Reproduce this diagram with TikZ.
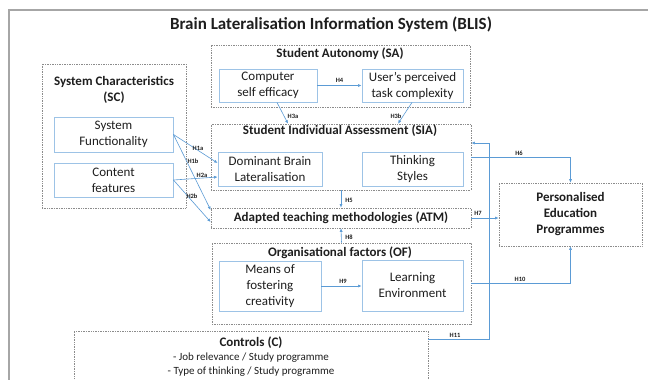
\documentclass[tikz,border=0pt]{standalone}
\usepackage{fontspec}
\setmainfont{Carlito}
\usetikzlibrary{arrows.meta}
\definecolor{boxcol}{HTML}{9DC3E6}
\definecolor{arrcol}{HTML}{5B9BD5}
\definecolor{dotcol}{HTML}{8C8C8C}
\definecolor{framecol}{HTML}{A6A6A6}
\definecolor{txtcol}{HTML}{1E1E1E}
\tikzset{
  grp/.style={draw=dotcol, densely dotted, line width=0.7pt, inner sep=0pt},
  bx/.style={draw=boxcol, line width=0.9pt, align=center, inner sep=0pt, text=txtcol,
    font=\fontsize{13}{16}\selectfont},
  ttl/.style={align=center, inner sep=0pt, text=txtcol, font=\bfseries\fontsize{13}{16}\selectfont},
  arr/.style={draw=arrcol, line width=0.6pt, -{Latex[length=3.5pt,width=3pt]}},
  lnk/.style={draw=arrcol, line width=0.6pt},
  lbl/.style={inner sep=0pt, text=txtcol, font=\bfseries\fontsize{6.5}{7}\selectfont},
  ctl/.style={inner sep=0pt, text=txtcol, font=\fontsize{11}{13}\selectfont}
}
\begin{document}
\begin{tikzpicture}[x=1pt,y=-1pt]
\useasboundingbox (0,0) rectangle (648,380);
\fill[white] (0,0) rectangle (648,380);
\draw[framecol, line width=2pt] (9,385) -- (9,10) -- (652,10);

\node[inner sep=0pt, text=txtcol, font=\bfseries\fontsize{17}{20}\selectfont] (title) at (331,25) {Brain Lateralisation Information System (BLIS)};

% System characteristics
\node[grp, minimum width=144pt, minimum height=144pt] (sc) at (114,136) {};
\node[ttl] (sct) at (114,90) {System Characteristics\\(SC)};
\node[bx, minimum width=119pt, minimum height=35pt] (sf) at (113.5,134.5) {System\\Functionality};
\node[bx, minimum width=119pt, minimum height=34pt] (cf) at (113.5,180) {Content\\features};

% Student autonomy
\node[grp, minimum width=259pt, minimum height=62pt] (sa) at (340.5,76) {};
\node[ttl] (sat) at (340,54) {Student Autonomy (SA)};
\node[bx, minimum width=98pt, minimum height=33pt] (cse) at (268,85.5) {Computer\\self efficacy};
\node[bx, minimum width=101pt, minimum height=33pt] (uptc) at (412.5,85.5) {User's perceived\\task complexity};

% Student individual assessment
\node[grp, minimum width=260pt, minimum height=66pt] (sia) at (341,157) {};
\node[ttl] (siat) at (340,131) {Student Individual Assessment (SIA)};
\node[bx, minimum width=104pt, minimum height=34pt] (dbl) at (270,169) {Dominant Brain\\Lateralisation};
\node[bx, minimum width=101pt, minimum height=34pt] (ts) at (412.5,169) {Thinking\\Styles};

% ATM
\node[grp, ttl, minimum width=260pt, minimum height=20pt] (atm) at (341,218) {Adapted teaching methodologies (ATM)};

% Organisational factors
\node[grp, minimum width=259pt, minimum height=81pt] (of) at (341.5,283.5) {};
\node[ttl] (oft) at (340,253) {Organisational factors (OF)};
\node[bx, minimum width=102pt, minimum height=50pt] (mfc) at (270,286) {Means of\\fostering\\creativity};
\node[bx, minimum width=101pt, minimum height=51pt] (le) at (412.5,285.5) {Learning\\Environment};

% PEP
\node[grp, ttl, minimum width=143pt, minimum height=63pt] (pep) at (570.5,214.5) {Personalised\\Education\\Programmes};

% Controls
\node[grp, minimum width=354pt, minimum height=51pt] (ctrl) at (251,356.5) {};
\node[ttl] (ctrlt) at (251,343) {Controls (C)};
\node[ctl] (c1) at (251,358) {- Job relevance / Study programme};
\node[ctl] (c2) at (251,372) {- Type of thinking / Study programme};

% connectors
\draw[arr] (cse.east) -- (uptc.west) node[lbl, pos=0.5, above=3pt] (h4) {H4};
\draw[arr] ([xshift=9pt]cse.south) -- ([xshift=-53pt]sia.north);
\node[lbl] (h3a) at (293,116) {H3a};
\draw[arr] ([xshift=-0.5pt]uptc.south) -- ([xshift=57pt]sia.north);
\node[lbl] (h3b) at (396,116) {H3b};

\draw[arr] (sf.east) -- ([yshift=6pt]dbl.west);
\draw[arr] (sf.east) -- ([yshift=8pt]atm.west);
\draw[arr] (cf.east) -- ([yshift=-8pt]dbl.west);
\draw[arr] (cf.east) -- ([yshift=-4pt]atm.west);
\node[lbl] (h1a) at (198,148) {H1a};
\node[lbl] (h1b) at (193,161) {H1b};
\node[lbl] (h2a) at (202,175) {H2a};
\node[lbl] (h2b) at (192,196) {H2b};

\draw[arr] (sia.south) -- (atm.north);
\node[lbl] (h5) at (349,200) {H5};
\draw[arr] (of.north) -- (atm.south);
\node[lbl] (h8) at (349,237) {H8};
\draw[arr] (mfc.east) -- (mfc.east -| le.west);
\node[lbl] (h9) at (343,281) {H9};

\draw[arr] (sia.east) -| (pep.north);
\node[lbl] (h6) at (519,153) {H6};
\draw[arr] (atm.east) -- (atm.east -| pep.west);
\node[lbl] (h7) at (478,213) {H7};
\draw[arr] (of.east) -| (pep.south);
\node[lbl] (h10) at (520,279) {H10};

\coordinate (h11a) at (489,339);
\coordinate (h11b) at (489,143);
\draw[arr] ([yshift=17.5pt]ctrl.east) -- (h11a) -- (h11b) -- (sia.east |- h11b);
\node[lbl] (h11) at (455,335) {H11};
\end{tikzpicture}
\end{document}
